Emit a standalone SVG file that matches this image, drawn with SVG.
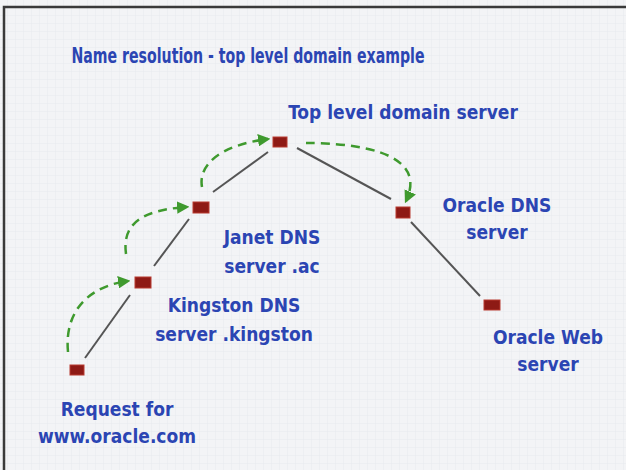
<svg xmlns="http://www.w3.org/2000/svg" width="626" height="470" viewBox="0 0 626 470">
<defs>
<pattern id="grid" width="8" height="8" patternUnits="userSpaceOnUse">
<rect width="8" height="8" fill="#f3f4f6"/>
<path d="M8 0V8M0 8H8" stroke="#e8eaee" stroke-width="1"/>
</pattern>
<marker id="ga" viewBox="0 0 10 10" refX="8" refY="5" markerWidth="5" markerHeight="5" orient="auto">
<path d="M0 0L10 5L0 10z" fill="#3f9a2e"/>
</marker>
<style>
.t{font-family:"DejaVu Sans Condensed","DejaVu Sans",sans-serif;font-weight:bold;fill:#2b45b3;text-anchor:middle;font-size:19px}
.ti{font-size:21px}
.n{fill:#8e1a15;stroke:#b83a30;stroke-width:1}
.l{stroke:#555;stroke-width:2;fill:none}
.d{stroke:#3f9a2e;stroke-width:2.5;fill:none;stroke-dasharray:9 6;marker-end:url(#ga)}
</style>
</defs>
<rect x="0" y="0" width="626" height="470" fill="url(#grid)"/>
<path d="M4 470V7H626" stroke="#3a3a3a" stroke-width="2.5" fill="none"/>
<text class="t ti" x="248" y="63" textLength="353" lengthAdjust="spacingAndGlyphs">Name resolution - top level domain example</text>
<g id="connectors">
<line class="l" x1="85" y1="358" x2="130" y2="295"/>
<line class="l" x1="154" y1="266" x2="189" y2="219"/>
<line class="l" x1="213" y1="192" x2="268" y2="152"/>
<line class="l" x1="297" y1="148" x2="391" y2="199"/>
<line class="l" x1="411" y1="222" x2="480" y2="296"/>
<path class="d" d="M68 352C64 310 90 286 128 281"/>
<path class="d" d="M126 254C122 225 140 210 187 207"/>
<path class="d" d="M202 187C198 165 220 145 268 139"/>
<path class="d" d="M306 143C350 143 430 150 406 201"/>
</g>
<g id="request"><rect class="n" x="70" y="365" width="14" height="10"/>
<text class="t" x="117" y="416">Request for</text><text class="t" x="117" y="443">www.oracle.com</text></g>
<g id="kingston"><rect class="n" x="135" y="277" width="16" height="11"/>
<text class="t" x="234" y="312">Kingston DNS</text><text class="t" x="234" y="341">server .kingston</text></g>
<g id="janet"><rect class="n" x="193" y="202" width="16" height="11"/>
<text class="t" x="272" y="244">Janet DNS</text><text class="t" x="272" y="273">server .ac</text></g>
<g id="tld"><rect class="n" x="273" y="137" width="14" height="10"/>
<text class="t" x="403" y="119">Top level domain server</text></g>
<g id="oracledns"><rect class="n" x="396" y="207" width="14" height="11"/>
<text class="t" x="497" y="212">Oracle DNS</text><text class="t" x="497" y="239">server</text></g>
<g id="oracleweb"><rect class="n" x="484" y="300" width="16" height="10"/>
<text class="t" x="548" y="344">Oracle Web</text><text class="t" x="548" y="371">server</text></g>
</svg>
